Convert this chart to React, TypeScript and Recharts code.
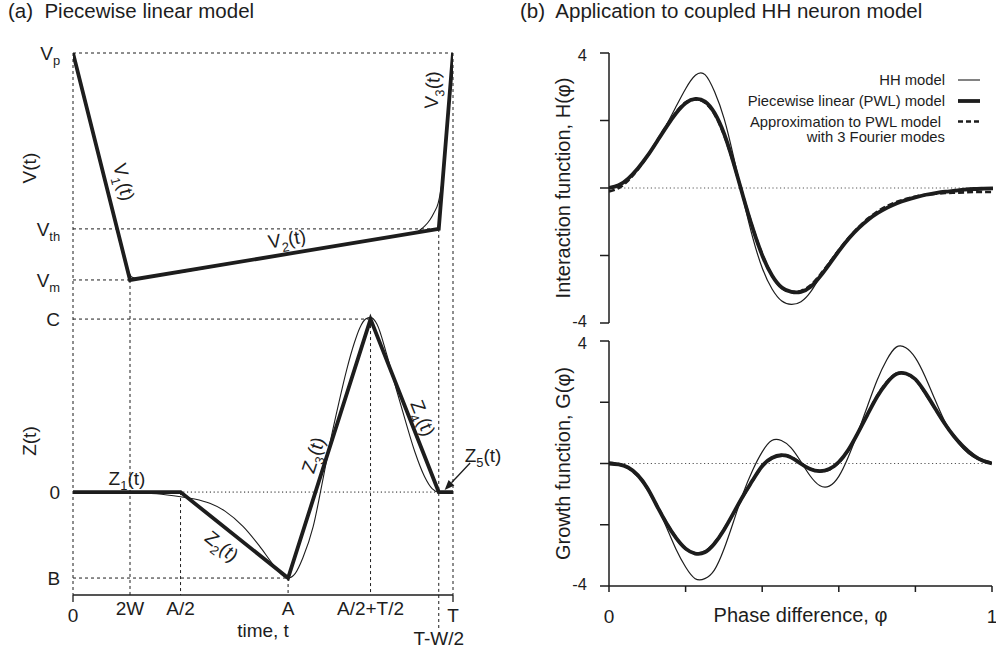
import React from "react";
import {
  ComposedChart,
  Line,
  XAxis,
  YAxis,
  ReferenceLine,
  ReferenceDot,
  Legend,
} from "recharts";

const FONT = '"Liberation Sans", Arial, Helvetica, sans-serif';
const INK = "#1d1d1d";

// (a) piecewise linear model, time in units of the period T
const T_2W = 0.15;
const T_HALF_A = 0.283;
const T_A = 0.566;
const T_PEAK = 0.783;
const T_END = 0.9625;

const V_PEAK = 1;
const V_THRESH = 0.225;
const V_MIN = 0;
const Z_TOP = 1; // C
const Z_BOTTOM = -0.497; // B

const timeTicks = [0, T_2W, T_HALF_A, T_A, T_PEAK, T_END, 1];
const timeTickLabels = ["0", "2W", "A/2", "A", "A/2+T/2", "T-W/2", "T"];

const vPwlTime = [0, T_2W, T_END, 1];
const vPwlValue = [V_PEAK, V_MIN, V_THRESH, V_PEAK];
const vHHTime = [0, 0.07, 0.13, 0.14, 0.148, 0.156, 0.168, 0.2, 0.5, 0.85, 0.9, 0.913, 0.926, 0.939, 0.95, 0.961, 0.968, 0.975, 0.985, 1];
const vHHValue = [1, 0.533, 0.135, 0.07, 0.03, 0.012, 0.008, 0.014, 0.097, 0.194, 0.207, 0.22, 0.238, 0.264, 0.296, 0.339, 0.396, 0.48, 0.69, 1];

const zPwlTime = [0, T_HALF_A, T_A, T_PEAK, T_END, 1];
const zPwlValue = [0, 0, Z_BOTTOM, Z_TOP, 0, 0];
const zHHTime = [0, 0.15, 0.22, 0.283, 0.32, 0.36, 0.4, 0.448, 0.49, 0.527, 0.548, 0.566, 0.585, 0.605, 0.632, 0.659, 0.676, 0.7, 0.72, 0.74, 0.755, 0.77, 0.783, 0.8, 0.825, 0.85, 0.875, 0.9, 0.925, 0.945, 0.9625, 1];
const zHHValue = [0, -0.003, -0.01, -0.027, -0.04, -0.065, -0.11, -0.2, -0.31, -0.42, -0.475, -0.497, -0.47, -0.38, -0.2, 0.088, 0.28, 0.52, 0.705, 0.86, 0.95, 1.0, 1.01, 0.97, 0.8, 0.6, 0.41, 0.23, 0.09, 0.02, 0, 0];

// axis ranges of the two stacked traces sharing one plot area
const V_AXIS = [-1.388, 1];
const Z_AXIS = [-0.595, 2.538];

const levelLabels = [
  { axis: "v", value: V_PEAK, main: "V", sub: "p" },
  { axis: "v", value: V_THRESH, main: "V", sub: "th" },
  { axis: "v", value: V_MIN, main: "V", sub: "m" },
  { axis: "z", value: Z_TOP, main: "C" },
  { axis: "z", value: 0, main: "0" },
  { axis: "z", value: Z_BOTTOM, main: "B" },
];

const curveNotes = [
  { axis: "v", t: 0.134, value: 0.432, main: "V", sub: "1", rest: "(t)", angle: 76 },
  { axis: "v", t: 0.563, value: 0.181, main: "V", sub: "2", rest: "(t)", angle: -9 },
  { axis: "v", t: 0.945, value: 0.837, main: "V", sub: "3", rest: "(t)", angle: -86 },
  { axis: "z", t: 0.142, value: 0.081, main: "Z", sub: "1", rest: "(t)", angle: 0 },
  { axis: "z", t: 0.392, value: -0.312, main: "Z", sub: "2", rest: "(t)", angle: 39 },
  { axis: "z", t: 0.632, value: 0.214, main: "Z", sub: "3", rest: "(t)", angle: -72 },
  { axis: "z", t: 0.921, value: 0.428, main: "Z", sub: "4", rest: "(t)", angle: 68 },
  { axis: "z", t: 1.079, value: 0.214, main: "Z", sub: "5", rest: "(t)", angle: 0 },
  { axis: "v", t: -0.116, value: 0.493, main: "V(t)", angle: -90 },
  { axis: "z", t: -0.116, value: 0.295, main: "Z(t)", angle: -90 },
];

// (b) coupled HH neurons
const phase = [0, 0.025, 0.05, 0.075, 0.1, 0.125, 0.15, 0.175, 0.2, 0.225, 0.25, 0.275, 0.3, 0.325, 0.35, 0.375, 0.4, 0.425, 0.45, 0.475, 0.5, 0.525, 0.55, 0.575, 0.6, 0.625, 0.65, 0.675, 0.7, 0.725, 0.75, 0.775, 0.8, 0.825, 0.85, 0.875, 0.9, 0.925, 0.95, 0.975, 1];

const hHH = [0, 0.1, 0.3, 0.6, 0.96, 1.4, 1.88, 2.42, 2.95, 3.34, 3.36, 2.85, 2.05, 0.9, -0.35, -1.5, -2.4, -3.0, -3.35, -3.45, -3.37, -3.08, -2.62, -2.18, -1.8, -1.47, -1.18, -0.94, -0.75, -0.59, -0.46, -0.36, -0.28, -0.21, -0.16, -0.12, -0.08, -0.05, -0.03, -0.01, 0];
const hPWL = [0, 0.08, 0.28, 0.58, 0.95, 1.38, 1.82, 2.22, 2.52, 2.64, 2.56, 2.22, 1.6, 0.72, -0.28, -1.22, -2.02, -2.6, -2.95, -3.08, -3.08, -2.93, -2.62, -2.24, -1.85, -1.49, -1.19, -0.94, -0.74, -0.58, -0.45, -0.35, -0.27, -0.2, -0.15, -0.11, -0.08, -0.05, -0.03, -0.02, -0.01];
const hFourier = [-0.1, 0.0, 0.22, 0.55, 0.94, 1.39, 1.84, 2.25, 2.54, 2.62, 2.53, 2.18, 1.56, 0.7, -0.27, -1.2, -2.0, -2.6, -2.96, -3.08, -3.05, -2.88, -2.57, -2.2, -1.82, -1.47, -1.16, -0.9, -0.69, -0.53, -0.41, -0.32, -0.25, -0.2, -0.17, -0.15, -0.14, -0.13, -0.12, -0.12, -0.12];

const gHH = [0, -0.03, -0.12, -0.35, -0.75, -1.38, -2.08, -2.8, -3.38, -3.76, -3.76, -3.48, -2.8, -1.9, -0.98, -0.22, 0.38, 0.75, 0.75, 0.52, 0.08, -0.4, -0.72, -0.74, -0.42, 0.22, 1.02, 1.88, 2.72, 3.38, 3.8, 3.78, 3.45, 2.85, 2.12, 1.42, 0.88, 0.48, 0.22, 0.07, 0];
const gPWL = [0, -0.03, -0.13, -0.38, -0.8, -1.38, -1.95, -2.43, -2.78, -2.94, -2.9, -2.62, -2.17, -1.62, -1.06, -0.55, -0.08, 0.18, 0.27, 0.2, 0.0, -0.18, -0.25, -0.18, 0.05, 0.45, 1.0, 1.6, 2.18, 2.63, 2.92, 2.94, 2.75, 2.33, 1.83, 1.33, 0.9, 0.55, 0.28, 0.1, 0];
const gFourier = [0.02, -0.02, -0.14, -0.4, -0.82, -1.37, -1.93, -2.42, -2.78, -2.93, -2.88, -2.6, -2.16, -1.63, -1.08, -0.56, -0.1, 0.17, 0.28, 0.22, 0.02, -0.17, -0.25, -0.2, 0.03, 0.44, 1.0, 1.61, 2.2, 2.65, 2.93, 2.93, 2.73, 2.31, 1.82, 1.33, 0.91, 0.56, 0.29, 0.11, 0.02];

const phaseTicks = [0, 0.2, 0.4, 0.6, 0.8, 1];
const funcTicks = [-4, -2, 0, 2, 4];
const legendNames = ["HH model", "Piecewise linear (PWL) model", "Approximation to PWL model", "with 3 Fourier modes"];

const vHH = vHHTime.map((t, i) => ({ t, v: vHHValue[i] }));
const vPwl = vPwlTime.map((t, i) => ({ t, v: vPwlValue[i] }));
const zHH = zHHTime.map((t, i) => ({ t, z: zHHValue[i] }));
const zPwl = zPwlTime.map((t, i) => ({ t, z: zPwlValue[i] }));
const hData = phase.map((phi, i) => ({ phi, hh: hHH[i], pwl: hPWL[i], fourier: hFourier[i] }));
const gData = phase.map((phi, i) => ({ phi, hh: gHH[i], pwl: gPWL[i], fourier: gFourier[i] }));

const DASH = "3 3";
const DOT = "1.2 2.6";

function MathText({ x, y, main, sub, rest, angle = 0, anchor = "middle", size = 19 }: any) {
  const shift = size * 0.3;
  return (
    <text
      x={x}
      y={y}
      dy="0.35em"
      textAnchor={anchor}
      fontFamily={FONT}
      fontSize={size}
      fill={INK}
      transform={angle ? `rotate(${angle} ${x} ${y})` : undefined}
    >
      <tspan>{main}</tspan>
      {sub ? (
        <tspan dy={shift} fontSize={size * 0.68}>
          {sub}
        </tspan>
      ) : null}
      {rest ? <tspan dy={sub ? -shift : 0}>{rest}</tspan> : null}
    </text>
  );
}

const TimeTick = (props: any) => {
  const { x, y, payload } = props;
  const label = timeTickLabels[timeTicks.indexOf(payload.value)];
  let drop = 20;
  if (label === "0" || label === "T") drop = 27;
  if (label === "T-W/2") drop = 50;
  return (
    <g>
      {label === "0" || label === "T" ? (
        <line x1={x} x2={x} y1={y} y2={y + 7} stroke={INK} strokeWidth={1.3} />
      ) : null}
      {label === "T-W/2" ? (
        <line x1={x} x2={x} y1={y} y2={y + 36} stroke={INK} strokeWidth={1} strokeDasharray={DASH} />
      ) : null}
      <text x={x} y={y + drop} textAnchor="middle" fontFamily={FONT} fontSize={19} fill={INK}>
        {label}
      </text>
    </g>
  );
};

// value ticks: only the ends are labelled, nudged apart where the two panels meet
const FuncTick = (props: any) => {
  const { x, y, payload } = props;
  const v = payload.value;
  if (Math.abs(v) !== 4) return <g />;
  const nudge = v < 0 ? -2 : 2;
  return (
    <text x={x} y={y + nudge} dy="0.35em" textAnchor="end" fontFamily={FONT} fontSize={16.5} fill={INK}>
      {String(v)}
    </text>
  );
};

const arrowShape = (p: any) => {
  const { x1, y1, x2, y2 } = p;
  const a = Math.atan2(y2 - y1, x2 - x1);
  const len = 10;
  const w = 4;
  const bx = x2 - len * Math.cos(a);
  const by = y2 - len * Math.sin(a);
  const pts = `${x2},${y2} ${bx + w * Math.sin(a)},${by - w * Math.cos(a)} ${bx - w * Math.sin(a)},${by + w * Math.cos(a)}`;
  return (
    <g>
      <line x1={x1} y1={y1} x2={bx} y2={by} stroke={INK} strokeWidth={1.3} />
      <polygon points={pts} fill={INK} />
    </g>
  );
};

function PiecewiseChart() {
  const hLines = [
    { axis: "v", y: V_PEAK, to: 1 },
    { axis: "v", y: V_THRESH, to: T_END },
    { axis: "v", y: V_MIN, to: T_2W },
    { axis: "z", y: Z_TOP, to: T_PEAK },
    { axis: "z", y: Z_BOTTOM, to: T_A },
  ];
  const vLines = [
    { axis: "v", x: 0, from: V_PEAK, to: V_AXIS[0] },
    { axis: "v", x: 1, from: V_PEAK, to: V_AXIS[0] },
    { axis: "v", x: T_2W, from: V_MIN, to: V_AXIS[0] },
    { axis: "v", x: T_END, from: V_THRESH, to: V_AXIS[0] },
    { axis: "z", x: T_HALF_A, from: 0, to: Z_AXIS[0] },
    { axis: "z", x: T_A, from: Z_BOTTOM, to: Z_AXIS[0] },
    { axis: "z", x: T_PEAK, from: Z_TOP, to: Z_AXIS[0] },
  ];
  return (
    <ComposedChart width={520} height={653} margin={{ top: 53, right: 67, bottom: 8, left: 73 }}>
      <XAxis
        type="number"
        dataKey="t"
        domain={[0, 1]}
        allowDataOverflow
        ticks={timeTicks}
        interval={0}
        tick={TimeTick}
        tickSize={0}
        tickMargin={0}
        tickLine={false}
        axisLine={{ stroke: INK, strokeWidth: 1.3 }}
        height={50}
        label={(p: any) => (
          <text
            x={p.viewBox.x + p.viewBox.width / 2}
            y={p.viewBox.y + 42}
            textAnchor="middle"
            fontFamily={FONT}
            fontSize={19}
            fill={INK}
          >
            time, t
          </text>
        )}
      />
      <YAxis yAxisId="v" type="number" domain={V_AXIS} allowDataOverflow hide />
      <YAxis yAxisId="z" type="number" domain={Z_AXIS} allowDataOverflow hide />

      {hLines.map((l, i) => (
        <ReferenceLine
          key={`h${i}`}
          yAxisId={l.axis}
          segment={[{ x: 0, y: l.y }, { x: l.to, y: l.y }]}
          stroke={INK}
          strokeWidth={1}
          strokeDasharray={DASH}
          ifOverflow="visible"
        />
      ))}
      <ReferenceLine
        yAxisId="z"
        segment={[{ x: 0, y: 0 }, { x: T_END, y: 0 }]}
        stroke={INK}
        strokeWidth={1}
        strokeDasharray={DOT}
        ifOverflow="visible"
      />
      {vLines.map((l, i) => (
        <ReferenceLine
          key={`v${i}`}
          yAxisId={l.axis}
          segment={[{ x: l.x, y: l.from }, { x: l.x, y: l.to }]}
          stroke={INK}
          strokeWidth={1}
          strokeDasharray={DASH}
          ifOverflow="visible"
        />
      ))}

      <Line data={vHH} dataKey="v" yAxisId="v" type="monotone" stroke={INK} strokeWidth={1.1} dot={false} isAnimationActive={false} />
      <Line data={vPwl} dataKey="v" yAxisId="v" type="linear" stroke={INK} strokeWidth={3.8} dot={false} isAnimationActive={false} />
      <Line data={zHH} dataKey="z" yAxisId="z" type="monotone" stroke={INK} strokeWidth={1.1} dot={false} isAnimationActive={false} />
      <Line data={zPwl} dataKey="z" yAxisId="z" type="linear" stroke={INK} strokeWidth={3.8} dot={false} isAnimationActive={false} />

      {levelLabels.map((l, i) => (
        <ReferenceDot
          key={`l${i}`}
          yAxisId={l.axis}
          x={-0.034}
          y={l.value}
          r={1}
          ifOverflow="visible"
          shape={(p: any) => <MathText x={p.cx} y={p.cy} main={l.main} sub={l.sub} anchor="end" />}
        />
      ))}
      {curveNotes.map((n, i) => (
        <ReferenceDot
          key={`n${i}`}
          yAxisId={n.axis}
          x={n.t}
          y={n.value}
          r={1}
          ifOverflow="visible"
          shape={(p: any) => (
            <MathText x={p.cx} y={p.cy} main={n.main} sub={n.sub} rest={n.rest} angle={n.angle} />
          )}
        />
      ))}
      <ReferenceLine
        yAxisId="z"
        segment={[{ x: 1.045, y: 0.168 }, { x: 0.978, y: 0.012 }]}
        ifOverflow="visible"
        shape={arrowShape}
      />
    </ComposedChart>
  );
}

const renderLegend = () => {
  const textX = 205;
  const rows = [12, 33, 53.5, 69];
  const common = { fontFamily: FONT, fontSize: 14.8, fill: INK, textAnchor: "end" as const };
  return (
    <svg width={250} height={80} style={{ display: "block" }}>
      <text x={textX} y={rows[0]} dy="0.35em" {...common}>{legendNames[0]}</text>
      <line x1={218} x2={240} y1={rows[0]} y2={rows[0]} stroke={INK} strokeWidth={1.1} />
      <text x={textX} y={rows[1]} dy="0.35em" {...common}>{legendNames[1]}</text>
      <line x1={218} x2={240} y1={rows[1]} y2={rows[1]} stroke={INK} strokeWidth={3.8} />
      <text x={textX - 4} y={rows[2]} dy="0.35em" {...common}>{legendNames[2]}</text>
      <line x1={218} x2={240} y1={rows[2]} y2={rows[2]} stroke={INK} strokeWidth={2.6} strokeDasharray="5 3" />
      <text x={textX} y={rows[3]} dy="0.35em" {...common}>{legendNames[3]}</text>
    </svg>
  );
};

const axisTitle = (text: string) => (p: any) => {
  const cx = p.viewBox.x + 43;
  const cy = p.viewBox.y + p.viewBox.height / 2;
  return (
    <text
      x={cx}
      y={cy}
      dy="0.35em"
      textAnchor="middle"
      transform={`rotate(-90 ${cx} ${cy})`}
      fontFamily={FONT}
      fontSize={20}
      fill={INK}
    >
      {text}
    </text>
  );
};

function FunctionChart({ data, height, margin, title, showX, legend }: any) {
  return (
    <ComposedChart width={476} height={height} data={data} margin={margin}>
      <XAxis
        type="number"
        dataKey="phi"
        domain={[0, 1]}
        allowDataOverflow
        hide={!showX}
        ticks={phaseTicks}
        interval={0}
        tickFormatter={(v: number) => (v === 0 || v === 1 ? String(v) : "")}
        tickSize={6}
        tickMargin={18}
        tick={{ fill: INK, fontSize: 19, fontFamily: FONT }}
        tickLine={{ stroke: INK, strokeWidth: 1.5 }}
        axisLine={{ stroke: INK, strokeWidth: 1.5 }}
        height={40}
        label={(p: any) => (
          <text
            x={p.viewBox.x + p.viewBox.width / 2}
            y={p.viewBox.y + 36}
            textAnchor="middle"
            fontFamily={FONT}
            fontSize={20}
            fill={INK}
          >
            Phase difference, φ
          </text>
        )}
      />
      <YAxis
        type="number"
        domain={[-4, 4]}
        allowDataOverflow
        ticks={funcTicks}
        interval={0}
        width={89}
        tickSize={9}
        tickMargin={13}
        tick={FuncTick}
        tickLine={{ stroke: INK, strokeWidth: 1.5 }}
        axisLine={{ stroke: INK, strokeWidth: 1.5 }}
        label={axisTitle(title)}
      />
      <ReferenceLine y={0} stroke="#555" strokeWidth={1} strokeDasharray={DOT} />
      <Line dataKey="hh" type="natural" stroke={INK} strokeWidth={1.2} dot={false} isAnimationActive={false} />
      <Line dataKey="pwl" type="natural" stroke={INK} strokeWidth={3.8} dot={false} isAnimationActive={false} />
      <Line dataKey="fourier" type="natural" stroke={INK} strokeWidth={2.6} strokeDasharray="6 3" dot={false} isAnimationActive={false} />
      {legend ? (
        <Legend
          layout="vertical"
          align="center"
          verticalAlign="middle"
          content={renderLegend}
          wrapperStyle={{ position: "absolute", left: 220, top: 68, width: 250 }}
        />
      ) : null}
    </ComposedChart>
  );
}

export default function App() {
  const titleStyle: React.CSSProperties = {
    position: "absolute",
    top: -1,
    fontSize: 20.5,
    lineHeight: "24px",
    whiteSpace: "pre",
    fontFamily: FONT,
    color: INK,
  };
  return (
    <div style={{ position: "absolute", left: 0, top: 0, width: 996, height: 653, background: "#fff", overflow: "hidden" }}>
      <div style={{ ...titleStyle, left: 8 }}>(a)  Piecewise linear model</div>
      <div style={{ ...titleStyle, left: 520 }}>(b)  Application to coupled HH neuron model</div>
      <div style={{ position: "absolute", left: 0, top: 0 }}>
        <PiecewiseChart />
      </div>
      <div style={{ position: "absolute", left: 520, top: 0 }}>
        <FunctionChart
          data={hData}
          height={340}
          margin={{ top: 53, right: 3, bottom: 17, left: 0 }}
          title="Interaction function, H(φ)"
          showX={false}
          legend
        />
      </div>
      <div style={{ position: "absolute", left: 520, top: 330 }}>
        <FunctionChart
          data={gData}
          height={323}
          margin={{ top: 11, right: 4, bottom: 27, left: 0 }}
          title="Growth function, G(φ)"
          showX
          legend={false}
        />
      </div>
    </div>
  );
}
